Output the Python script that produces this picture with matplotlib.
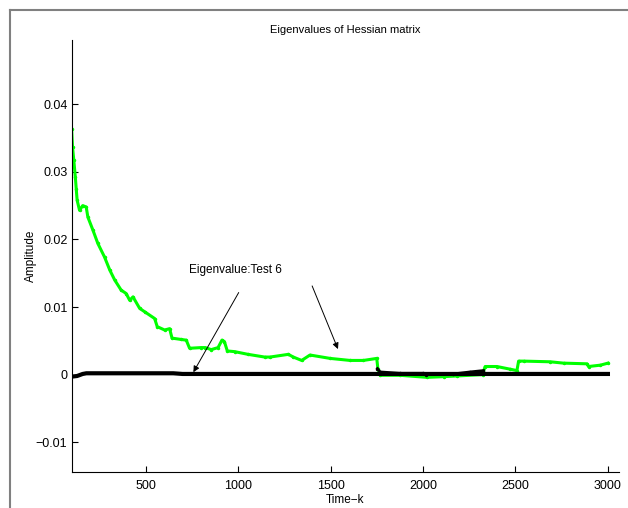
import matplotlib
matplotlib.use("Agg")
import matplotlib.pyplot as plt
from matplotlib.lines import Line2D

plt.rcParams['font.family'] = ['Liberation Sans', 'DejaVu Sans']

# largest eigenvalue (green)
green_x = [100, 105, 112, 120, 125, 130, 143, 160, 179, 188, 215, 242, 278, 306, 333, 368,
           395, 414, 432, 468, 495, 549, 563, 603, 630, 643, 693, 720, 738, 801, 823, 855,
           892, 913, 926, 942, 982, 1054, 1144, 1173, 1272, 1299, 1344, 1389, 1498, 1606,
           1678, 1750, 1756, 1768, 1876, 2021, 2111, 2183, 2322, 2336, 2400, 2472, 2508,
           2517, 2544, 2688, 2760, 2887, 2895, 2959, 3000]
green_y = [0.0364, 0.0337, 0.0317, 0.0293, 0.0275, 0.0258, 0.0243, 0.0250, 0.0248, 0.0233,
           0.0214, 0.0194, 0.0174, 0.0155, 0.0140, 0.0125, 0.0120, 0.0110, 0.0115, 0.0098,
           0.0093, 0.0083, 0.0071, 0.0066, 0.0068, 0.0054, 0.0052, 0.0051, 0.0039, 0.0040,
           0.0040, 0.0037, 0.0040, 0.0051, 0.0049, 0.0035, 0.0034, 0.0030, 0.0026, 0.0026,
           0.0030, 0.0026, 0.0021, 0.0029, 0.0024, 0.0021, 0.0021, 0.0024, 0.0009, -0.0001,
           -0.0001, -0.0004, -0.0003, -0.0002, 0.0000, 0.0012, 0.0012, 0.0008, 0.0006,
           0.0020, 0.0020, 0.0019, 0.0017, 0.0016, 0.0012, 0.0014, 0.0017]

# remaining eigenvalues (black)
black_x = [100, 130, 160, 180, 650, 700, 3000]
black_y = [-0.0003, -0.0002, 0.0001, 0.0002, 0.0002, 0.0001, 0.0001]

black2_x = [1754, 1768, 1876, 2001, 2019, 2165, 2255, 2327]
black2_y = [0.0009, 0.0004, 0.0002, 0.0002, 0.0000, 0.0001, 0.0004, 0.0006]

fig = plt.figure(figsize=(6.28, 5.08), dpi=100)
ax = fig.add_axes([0.114, 0.0709, 0.8717, 0.8504])

ax.plot(green_x, green_y, color='#00ff00', lw=2.2, marker='.', ms=3)
ax.plot(black_x, black_y, color='black', lw=3)
ax.plot(black2_x, black2_y, color='black', lw=2, marker='.', ms=3)

ax.set_xlim(100, 3060)
ax.set_ylim(-0.0144, 0.0495)
ax.set_xticks([500, 1000, 1500, 2000, 2500, 3000])
ax.set_yticks([-0.01, 0, 0.01, 0.02, 0.03, 0.04])
ax.set_yticklabels(['\u22120.01', '0', '0.01', '0.02', '0.03', '0.04'])
ax.tick_params(direction='in', length=4, labelsize=9, width=0.8)
ax.tick_params(axis='x', pad=6)
ax.tick_params(axis='y', pad=3)
for s in ['top', 'right']:
    ax.spines[s].set_visible(False)

ax.set_title('Eigenvalues of Hessian matrix', fontsize=8, pad=5)
ax.set_xlabel('Time\u2212k', fontsize=8.5, labelpad=1)
ax.set_ylabel('Amplitude', fontsize=8.5, labelpad=-1)

ax.text(735, 0.01546, 'Eigenvalue:Test 6', fontsize=8.5, va='center')
ax.annotate('', xy=(751, 0.0), xytext=(1011, 0.0125),
            arrowprops=dict(arrowstyle='-|>', color='black', lw=0.7, mutation_scale=9))
ax.annotate('', xy=(1546, 0.0034), xytext=(1395, 0.0135),
            arrowprops=dict(arrowstyle='-|>', color='black', lw=0.7, mutation_scale=9))

# window frame
fig.add_artist(Line2D([10 / 628, 10 / 628], [0, 1 - 10 / 508], color='#808080', lw=1.5,
                      transform=fig.transFigure))
fig.add_artist(Line2D([10 / 628, 1], [1 - 10 / 508, 1 - 10 / 508], color='#808080', lw=1.5,
                      transform=fig.transFigure))

fig.savefig('out.png', dpi=100)
